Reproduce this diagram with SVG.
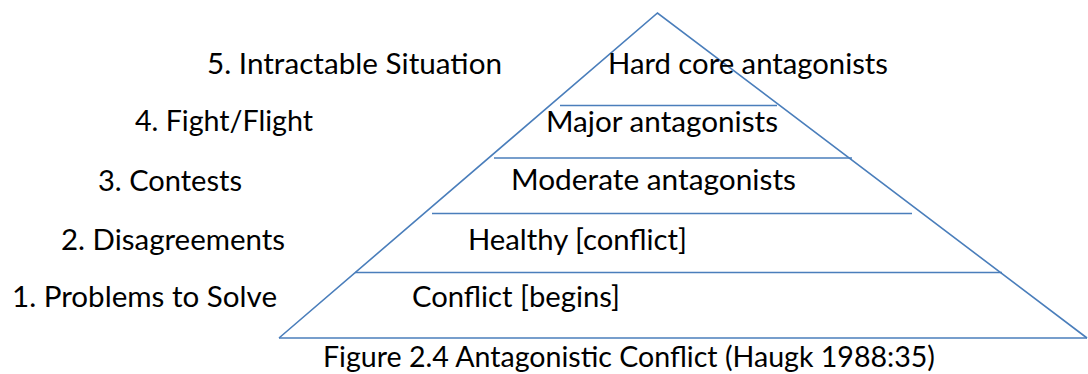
<svg xmlns="http://www.w3.org/2000/svg" width="1088" height="374" viewBox="0 0 1088 374">
  <style>
    .lbl { font-family: Lato, "Open Sans", "Liberation Sans", sans-serif; font-size: 29px; fill: #000; }
    .edge { stroke: #4a7ebb; stroke-width: 1.6; fill: none; }
  </style>
  <rect width="1088" height="374" fill="#fff"/>
  <!-- pyramid outline and level dividers -->
  <g id="connectors">
    <polyline class="edge" points="279,338 657.5,13 1087,338"/>
    <line class="edge" x1="279" y1="338" x2="1087" y2="338"/>
    <line class="edge" x1="560" y1="105.5" x2="777" y2="105.5"/>
    <line class="edge" x1="494" y1="158" x2="852" y2="158"/>
    <line class="edge" x1="432" y1="213.5" x2="912" y2="213.5"/>
    <line class="edge" x1="355" y1="272.5" x2="1002" y2="272.5"/>
  </g>
  <!-- stage labels, left -->
  <g id="stage5"><text class="lbl" x="207" y="74" textLength="295" lengthAdjust="spacingAndGlyphs">5. Intractable Situation</text></g>
  <g id="stage4"><text class="lbl" x="135" y="131" textLength="178" lengthAdjust="spacingAndGlyphs">4. Fight/Flight</text></g>
  <g id="stage3"><text class="lbl" x="98" y="191" textLength="144" lengthAdjust="spacingAndGlyphs">3. Contests</text></g>
  <g id="stage2"><text class="lbl" x="61" y="250" textLength="224" lengthAdjust="spacingAndGlyphs">2. Disagreements</text></g>
  <g id="stage1"><text class="lbl" x="12" y="307" textLength="265" lengthAdjust="spacingAndGlyphs">1. Problems to Solve</text></g>
  <!-- pyramid levels -->
  <g id="level5"><text class="lbl" x="608" y="74" textLength="280" lengthAdjust="spacingAndGlyphs">Hard core antagonists</text></g>
  <g id="level4"><text class="lbl" x="546" y="132" textLength="232" lengthAdjust="spacingAndGlyphs">Major antagonists</text></g>
  <g id="level3"><text class="lbl" x="511" y="190" textLength="285" lengthAdjust="spacingAndGlyphs">Moderate antagonists</text></g>
  <g id="level2"><text class="lbl" x="468" y="250" textLength="219" lengthAdjust="spacingAndGlyphs">Healthy [conflict]</text></g>
  <g id="level1"><text class="lbl" x="412" y="307" textLength="208" lengthAdjust="spacingAndGlyphs">Conflict [begins]</text></g>
  <!-- caption -->
  <g id="caption"><text class="lbl" x="323" y="367" textLength="612" lengthAdjust="spacingAndGlyphs">Figure 2.4 Antagonistic Conflict (Haugk 1988:35)</text></g>
</svg>
